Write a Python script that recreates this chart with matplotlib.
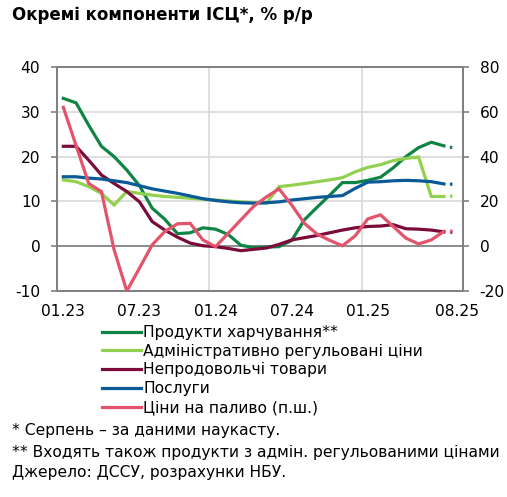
import matplotlib
matplotlib.use("Agg")
import matplotlib.pyplot as plt
import numpy as np

plt.rcParams['font.family'] = ['DejaVu Sans']
plt.rcParams['lines.scale_dashes'] = False
plt.rcParams['axes.unicode_minus'] = False

months = ["01.23","02.23","03.23","04.23","05.23","06.23","07.23","08.23","09.23","10.23","11.23","12.23",
          "01.24","02.24","03.24","04.24","05.24","06.24","07.24","08.24","09.24","10.24","11.24","12.24",
          "01.25","02.25","03.25","04.25","05.25","06.25","07.25","08.25"]
tick_labels = ["01.23", "07.23", "01.24", "07.24", "01.25", "08.25"]

food = [33.0, 32.0, 27.0, 22.3, 20.0, 17.0, 13.5, 8.5, 6.0, 2.8, 3.0, 4.1, 3.8, 2.6, 0.2, -0.3,
        -0.2, -0.1, 1.3, 5.9, 8.7, 11.4, 14.2, 14.2, 14.7, 15.4, 17.5, 20.0, 22.0, 23.2, 22.4, 21.8]
admin = [14.8, 14.4, 13.3, 11.8, 9.2, 12.2, 11.8, 11.4, 11.1, 10.9, 10.7, 10.5, 10.3, 10.1, 9.9, 9.7,
         9.6, 13.3, 13.6, 14.0, 14.4, 14.8, 15.3, 16.6, 17.6, 18.2, 19.1, 19.6, 19.9, 11.1, 11.1, 11.2]
nonfood = [22.3, 22.3, 19.2, 15.9, 14.0, 12.2, 9.9, 5.5, 3.6, 2.0, 0.7, 0.1, -0.1, -0.5, -1.0, -0.7,
           -0.4, 0.4, 1.4, 1.9, 2.4, 3.0, 3.6, 4.1, 4.4, 4.5, 4.8, 3.9, 3.8, 3.6, 3.2, 3.1]
services = [15.5, 15.5, 15.2, 15.0, 14.6, 14.2, 13.5, 12.8, 12.3, 11.8, 11.2, 10.6, 10.2, 9.9, 9.7, 9.6,
            9.7, 9.9, 10.3, 10.6, 10.9, 11.1, 11.3, 12.9, 14.3, 14.4, 14.6, 14.7, 14.6, 14.4, 13.9, 13.8]
fuel = [62.0, 45.0, 28.0, 24.4, -1.6, -20.0, -9.8, 0.6, 6.6, 10.0, 10.2, 2.8, -0.2, 5.8, 11.8, 17.8,
        22.0, 25.6, 18.4, 10.2, 5.4, 2.6, 0.2, 4.6, 12.2, 14.0, 8.8, 3.6, 1.0, 2.8, 6.6, 6.8]

names = ["Продукти харчування**", "Адміністративно регульовані ціни", "Непродовольчі товари",
         "Послуги", "Ціни на паливо (п.ш.)"]
colors = ["#108444", "#92d050", "#7b0b3a", "#0b5a98", "#e3546c"]

x = np.arange(len(months))
W, H = 507, 497
fig = plt.figure(figsize=(W/100, H/100), dpi=100)
ax = fig.add_axes([57/W, 1-291/H, 406/W, 224/H])
ax2 = ax.twinx()

ax.set_xlim(-0.5, len(months)-0.5)
ax.set_ylim(-10, 40)
ax2.set_ylim(-20, 80)
ax.set_yticks([-10, 0, 10, 20, 30, 40])
ax2.set_yticks([-20, 0, 20, 40, 60, 80])

ax.grid(axis='y', color='#d9d9d9', lw=1.2)
ax.set_xticks([months.index(t) for t in tick_labels])
ax.set_xticklabels(tick_labels)
ax.set_xticks([11.5, 23.5], minor=True)
ax.grid(axis='x', which='minor', color='#d9d9d9', lw=1.2)
ax.tick_params(axis='x', which='both', length=0, labelsize=11.2, pad=9, colors='black')
ax.tick_params(axis='y', length=4, width=1.2, color='#808080', labelsize=11.2, pad=8)
ax2.tick_params(axis='y', length=4, width=1.2, color='#808080', labelsize=11.2, pad=8)
ax.axhline(0, color='#7f7f7f', lw=1.2, zorder=1)
ax.set_axisbelow(True)
for a in (ax, ax2):
    for s in a.spines.values():
        s.set_color('#808080')
        s.set_linewidth(1.3)

lw = 2.3
handles = []
left_series = [food, admin, nonfood, services]
for vals, c, n in zip(left_series, colors[:4], names[:4]):
    h, = ax.plot(x[:-1], vals[:-1], color=c, lw=lw, label=n, solid_joinstyle='miter', zorder=3)
    ax.plot(x[-2:], vals[-2:], color=c, lw=lw, dash_capstyle='butt',
            linestyle=(97.5, (1.8, 100)), zorder=3)
    handles.append(h)
h, = ax2.plot(x[:-1], fuel[:-1], color=colors[4], lw=lw, label=names[4], solid_joinstyle='miter', zorder=3)
ax2.plot(x[-2:], fuel[-2:], color=colors[4], lw=lw, dash_capstyle='butt',
         linestyle=(97.5, (1.8, 100)), zorder=3)
handles.append(h)

fig.legend(handles=handles, labels=names, loc='upper left', bbox_to_anchor=(102/W, 1-325/H),
           frameon=False, fontsize=11.2, handlelength=2.5, handletextpad=0.15,
           labelspacing=0.24, borderaxespad=0, borderpad=0)

fig.text(12/W, 1-15/H, "Окремі компоненти ІСЦ*, % р/р", fontsize=12.0, fontweight='bold',
         ha='left', va='center')
fig.text(12/W, 1-430/H, "* Серпень – за даними наукасту.", fontsize=11.2, ha='left', va='center')
fig.text(12/W, 1-452/H, "** Входять також продукти з адмін. регульованими цінами", fontsize=11.2,
         ha='left', va='center')
fig.text(12/W, 1-473/H, "Джерело: ДССУ, розрахунки НБУ.", fontsize=11.2, ha='left', va='center')

fig.savefig("out.png", dpi=100)
